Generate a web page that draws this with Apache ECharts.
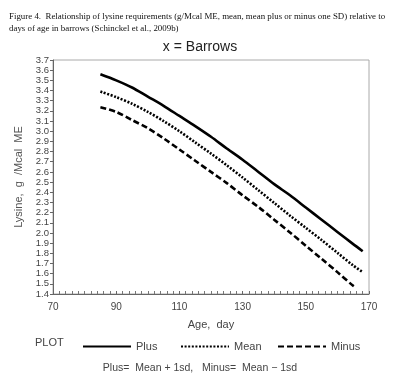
<!DOCTYPE html>
<html><head><meta charset="utf-8">
<script src="https://cdn.jsdelivr.net/npm/echarts@6/dist/echarts.min.js"></script>
<style>html,body{margin:0;padding:0;background:#fff}#c{width:400px;height:377px}</style>
</head><body><div id="c"></div>
<script>
const days = [85, 90, 95, 100, 105, 110, 115, 120, 125, 130, 135, 140, 145, 150, 155, 160, 165, 168];
const plusVals = [3.56, 3.50, 3.43, 3.34, 3.25, 3.15, 3.05, 2.945, 2.83, 2.72, 2.60, 2.48, 2.37, 2.25, 2.13, 2.01, 1.89, 1.82];
const meanVals = [3.39, 3.335, 3.27, 3.19, 3.10, 3.00, 2.89, 2.78, 2.665, 2.545, 2.42, 2.295, 2.17, 2.05, 1.93, 1.805, 1.68, 1.615];
const minusDays = [85, 90, 95, 100, 105, 110, 115, 120, 125, 130, 135, 140, 145, 150, 155, 160, 165, 166];
const minusVals = [3.235, 3.19, 3.11, 3.03, 2.93, 2.82, 2.71, 2.60, 2.49, 2.37, 2.255, 2.13, 2.005, 1.875, 1.745, 1.615, 1.48, 1.46];
const titleLines = ["Figure 4.  Relationship of lysine requirements (g/Mcal ME, mean, mean plus or minus one SD) relative to", "days of age in barrows (Schinckel et al., 2009b)"];
const subTitle = "x = Barrows";
const footnote = "Plus=  Mean + 1sd,   Minus=  Mean \u2212 1sd";

const chart = echarts.init(document.getElementById('c'), null, {renderer: 'canvas'});
const pair = (xs, ys) => xs.map((x, i) => [x, ys[i]]);
const lineW = 2.6;
const legendBase = {
  top: 336, itemWidth: 48, itemHeight: 12, itemGap: 5,
  itemStyle: {color: 'rgba(0,0,0,0)', borderWidth: 0, opacity: 0},
  textStyle: {fontFamily: 'Liberation Sans', fontSize: 11, color: '#444'}, selectedMode: false
};
chart.setOption({
  animation: false,
  backgroundColor: '#fff',
  title: [
    {text: titleLines.join('\n'), left: 4, top: 6,
     textStyle: {fontFamily: 'Liberation Serif', fontSize: 8.9, fontWeight: 'normal', color: '#111', lineHeight: 12}},
    {text: subTitle, left: 'center', top: 35,
     textStyle: {fontFamily: 'Liberation Sans', fontSize: 14, fontWeight: 'normal', color: '#222'}}
  ],
  grid: {left: 53, right: 31, top: 60, bottom: 83, show: true, borderColor: '#aaa', borderWidth: 1},
  xAxis: {
    type: 'value', min: 70, max: 170, interval: 20,
    name: 'Age,  day', nameLocation: 'middle', nameGap: 25,
    nameTextStyle: {fontFamily: 'Liberation Sans', fontSize: 11, color: '#444'},
    axisLine: {lineStyle: {color: '#666', width: 1}},
    axisTick: {inside: true, length: 3, lineStyle: {color: '#666'}},
    minorTick: {show: true, splitNumber: 10, length: 3, lineStyle: {color: '#777'}},
    axisLabel: {fontFamily: 'Liberation Sans', fontSize: 10, color: '#444', margin: 8},
    splitLine: {show: false}
  },
  yAxis: {
    type: 'value', min: 1.4, max: 3.7, interval: 0.1,
    name: 'Lysine,  g  /Mcal  ME', nameLocation: 'middle', nameGap: 25,
    nameTextStyle: {fontFamily: 'Liberation Sans', fontSize: 11, color: '#555'},
    axisLine: {show: true, lineStyle: {color: '#666', width: 1}},
    axisTick: {show: true, length: 3, lineStyle: {color: '#666'}},
    axisLabel: {fontFamily: 'Liberation Sans', fontSize: 9.5, color: '#444', margin: 4,
      formatter: v => (Math.round(v * 10) / 10).toFixed(1)},
    splitLine: {show: false}
  },
  legend: [
    Object.assign({}, legendBase, {left: 77, data: ['Plus']}),
    Object.assign({}, legendBase, {left: 175, data: ['Mean']}),
    Object.assign({}, legendBase, {left: 272, data: ['Minus']})
  ],
  graphic: [
    {type: 'text', left: 35, top: 337, style: {text: 'PLOT', font: '11px "Liberation Sans"', fill: '#444'}},
    {type: 'text', left: 'center', top: 363, style: {text: footnote, font: '10.5px "Liberation Sans"', fill: '#444'}}
  ],
  series: [
    {name: 'Plus', type: 'line', data: pair(days, plusVals), smooth: 0.3, symbol: 'none',
     lineStyle: {color: '#000', width: lineW, type: 'solid'}, itemStyle: {color: '#000'}},
    {name: 'Mean', type: 'line', data: pair(days, meanVals), smooth: 0.3, symbol: 'none',
     lineStyle: {color: '#000', width: lineW, type: [2, 1.6]}, itemStyle: {color: '#000'}},
    {name: 'Minus', type: 'line', data: pair(minusDays, minusVals), smooth: 0.3, symbol: 'none',
     lineStyle: {color: '#000', width: lineW, type: [6, 3]}, itemStyle: {color: '#000'}}
  ]
});
</script></body></html>
